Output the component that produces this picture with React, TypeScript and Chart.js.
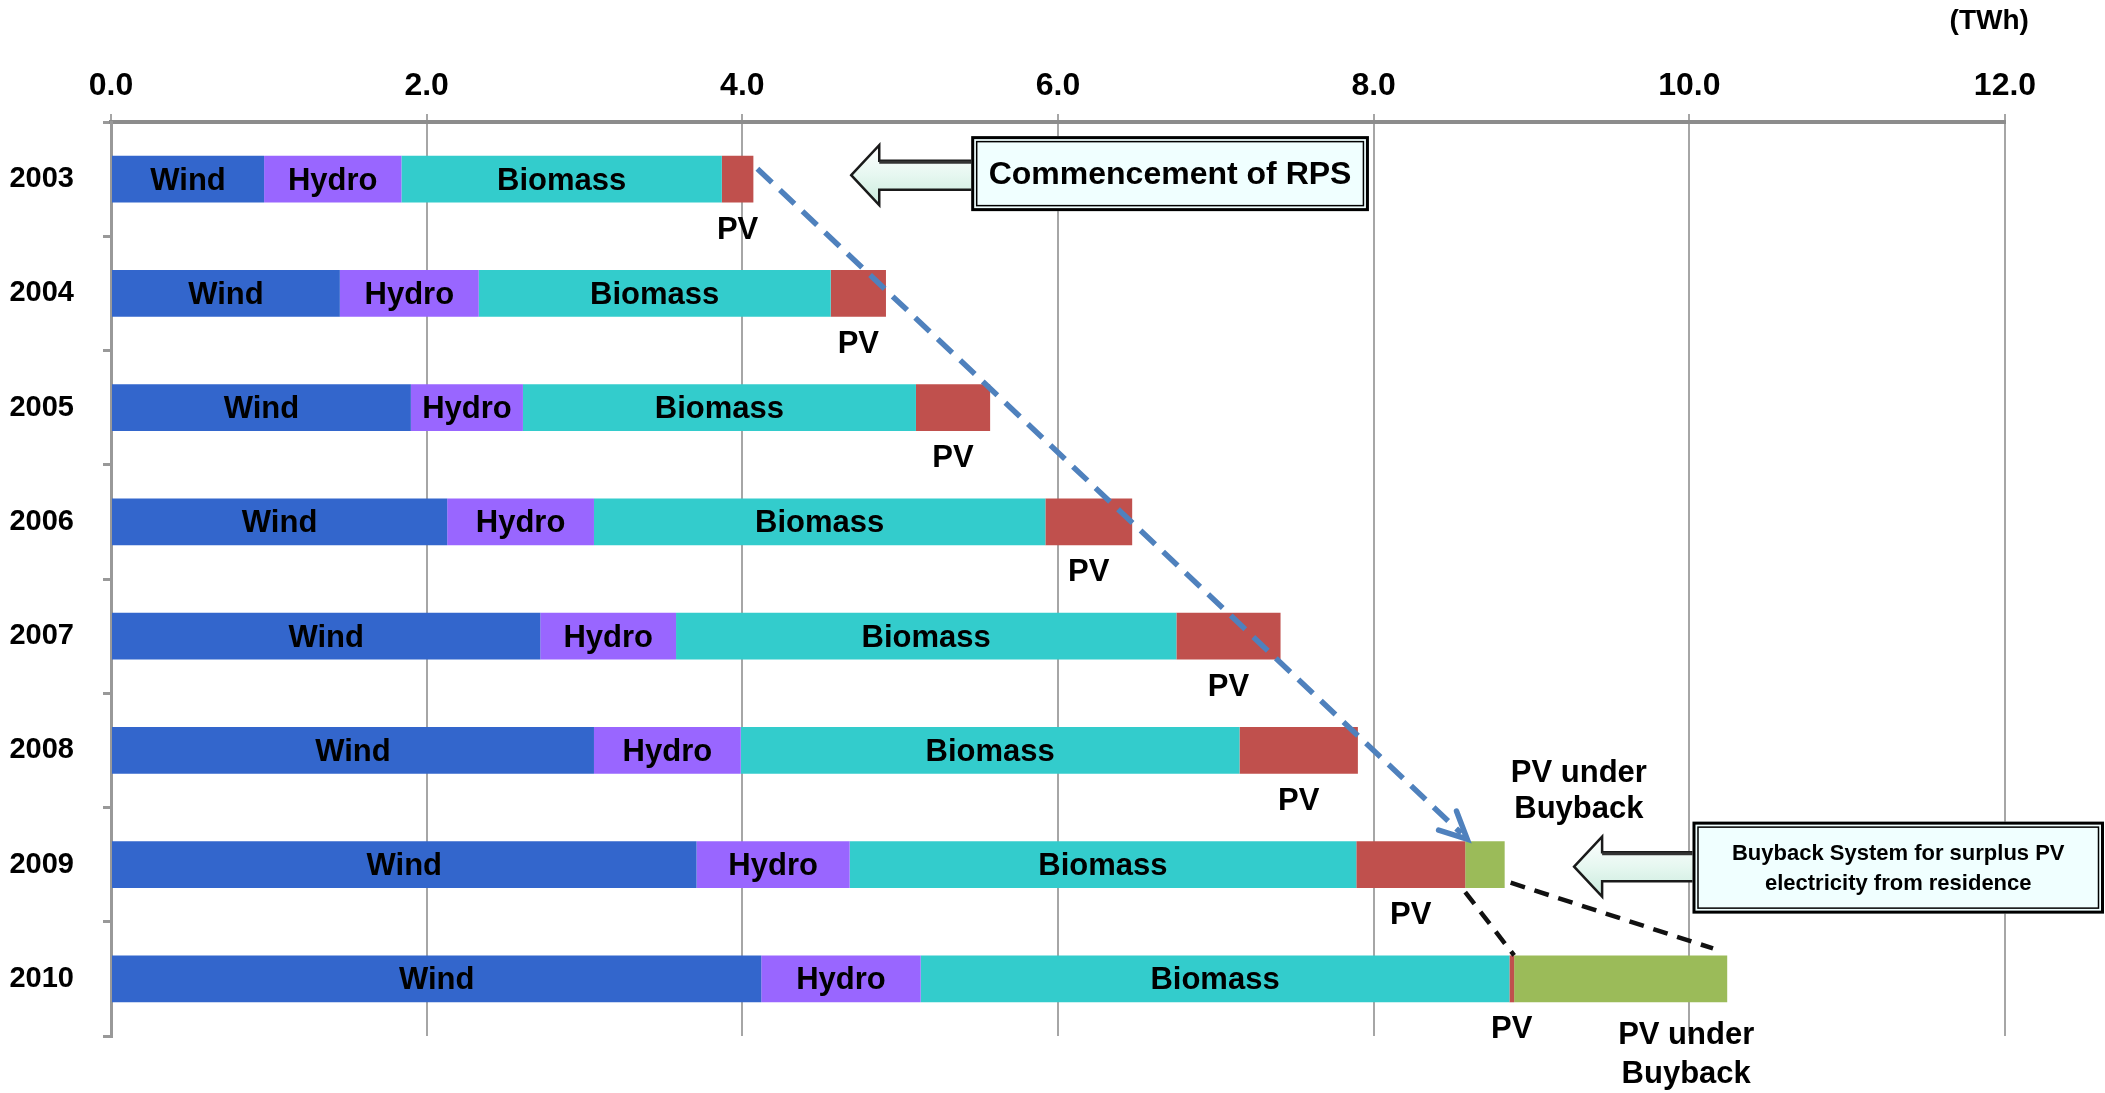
import React, { useEffect, useRef } from "react";
import { Chart, registerables } from "chart.js";

Chart.register(...registerables);

// ---- data (TWh) ----
const years = ["2003", "2004", "2005", "2006", "2007", "2008", "2009", "2010"];
const wind = [0.97, 1.45, 1.9, 2.13, 2.72, 3.06, 3.71, 4.12];
const hydro = [0.87, 0.88, 0.71, 0.93, 0.86, 0.93, 0.97, 1.01];
const biomass = [2.03, 2.23, 2.49, 2.86, 3.17, 3.16, 3.21, 3.73];
const pv = [0.2, 0.35, 0.47, 0.55, 0.66, 0.75, 0.69, 0.03];
const pvBuyback = [null, null, null, null, null, null, 0.25, 1.35];
const xTickValues = [0, 2, 4, 6, 8, 10, 12];
const unitLabel = "(TWh)";
const rpsNote = "Commencement of RPS";
const buybackNote = ["Buyback System for surplus PV", "electricity from residence"];
const buybackLabel = ["PV under", "Buyback"];

const SANS = "'Liberation Sans', Arial, sans-serif";

function drawArrow(ctx: CanvasRenderingContext2D, tipX: number, cy: number, endX: number) {
  const hl = 28, hh = 30, sh = 14.5;
  ctx.save();
  ctx.beginPath();
  ctx.moveTo(tipX, cy);
  ctx.lineTo(tipX + hl, cy - hh);
  ctx.lineTo(tipX + hl, cy - sh);
  ctx.lineTo(endX, cy - sh);
  ctx.lineTo(endX, cy + sh);
  ctx.lineTo(tipX + hl, cy + sh);
  ctx.lineTo(tipX + hl, cy + hh);
  ctx.closePath();
  const g = ctx.createLinearGradient(0, cy - hh, 0, cy + hh);
  g.addColorStop(0, "#ffffff");
  g.addColorStop(0.5, "#e6f7f0");
  g.addColorStop(1, "#c9eadc");
  ctx.fillStyle = g;
  ctx.fill();
  ctx.lineWidth = 2.5;
  ctx.strokeStyle = "#1a1a1a";
  ctx.lineJoin = "miter";
  ctx.stroke();
  ctx.beginPath();
  ctx.moveTo(tipX + hl, cy - sh + 1.5);
  ctx.lineTo(endX, cy - sh + 1.5);
  ctx.lineWidth = 3;
  ctx.strokeStyle = "#333";
  ctx.stroke();
  ctx.restore();
}

function drawBox(ctx: CanvasRenderingContext2D, x0: number, y0: number, x1: number, y1: number) {
  const w = x1 - x0, h = y1 - y0;
  ctx.save();
  ctx.fillStyle = "#f0ffff";
  ctx.fillRect(x0, y0, w, h);
  ctx.strokeStyle = "#000";
  ctx.lineWidth = 3;
  ctx.strokeRect(x0 + 1.5, y0 + 1.5, w - 3, h - 3);
  ctx.lineWidth = 1.5;
  ctx.strokeRect(x0 + 5.5, y0 + 5.5, w - 11, h - 11);
  ctx.restore();
}

const annotations = {
  id: "annotations",
  afterDatasetsDraw(chart: any) {
    const ctx: CanvasRenderingContext2D = chart.ctx;
    const xs = chart.scales.x;
    const ys = chart.scales.y;
    const meta = (i: number) => chart.getDatasetMeta(i).data as any[];
    const px = (v: number) => xs.getPixelForValue(v);
    const bandH = ys.getPixelForValue(1) - ys.getPixelForValue(0);
    const half = (bandH * 0.41) / 2;

    ctx.save();
    ctx.fillStyle = "#000";
    ctx.textAlign = "center";
    ctx.textBaseline = "middle";
    ctx.font = `bold 31px ${SANS}`;

    // segment names inside bars
    [0, 1, 2].forEach((d) => {
      const label = chart.data.datasets[d].label;
      meta(d).forEach((bar) => {
        ctx.fillText(label, (bar.x + bar.base) / 2, bar.y + 2);
      });
    });
    // PV labels under the PV segments
    meta(3).forEach((bar) => {
      ctx.fillText("PV", (bar.x + bar.base) / 2, bar.y + 51);
    });
    // PV under Buyback labels
    const b09 = meta(4)[6];
    const b10 = meta(4)[7];
    ctx.fillText(buybackLabel[0], px(9.3), b09.y - 91);
    ctx.fillText(buybackLabel[1], px(9.3), b09.y - 55);
    ctx.fillText(buybackLabel[0], px(9.98), b10.y + 57);
    ctx.fillText(buybackLabel[1], px(9.98), b10.y + 96);

    // blue dashed arrow (PV growth)
    const p03 = meta(3)[0];
    const p09 = meta(3)[6];
    const sx = p03.x + 4, sy = p03.y - half + 13;
    const ex = p09.x + 2, ey = p09.y - half - 2;
    ctx.strokeStyle = "#4f81bd";
    ctx.lineWidth = 5.5;
    ctx.setLineDash([20, 11]);
    ctx.beginPath();
    ctx.moveTo(sx, sy);
    ctx.lineTo(ex - 6, ey - 6);
    ctx.stroke();
    ctx.setLineDash([]);
    const ang = Math.atan2(ey - sy, ex - sx);
    const hlen = 30;
    ctx.lineCap = "round";
    ctx.beginPath();
    ctx.moveTo(ex - hlen * Math.cos(ang - 0.45), ey - hlen * Math.sin(ang - 0.45));
    ctx.lineTo(ex, ey);
    ctx.lineTo(ex - hlen * Math.cos(ang + 0.45), ey - hlen * Math.sin(ang + 0.45));
    ctx.stroke();
    ctx.lineCap = "butt";

    // black dashed lines (2009 -> 2010 buyback)
    const p10 = meta(3)[7];
    ctx.strokeStyle = "#111";
    ctx.lineWidth = 4.5;
    ctx.setLineDash([15, 10]);
    ctx.beginPath();
    ctx.moveTo(p09.x, p09.y + half + 4);
    ctx.lineTo(p10.x, p10.y - half);
    ctx.stroke();
    ctx.beginPath();
    ctx.moveTo(b09.x + 6, b09.y + 18);
    ctx.lineTo(px(10.15), b10.y - half - 7);
    ctx.stroke();
    ctx.setLineDash([]);

    // Commencement of RPS box + arrow
    const y03 = ys.getPixelForValue(0) - 5;
    const bx0 = px(5.45), bx1 = px(7.97);
    drawArrow(ctx, px(4.69), y03 + 1, bx0 + 2);
    drawBox(ctx, bx0, y03 - 38, bx1, y03 + 37);
    ctx.fillStyle = "#000";
    ctx.font = `bold 32px ${SANS}`;
    ctx.fillText(rpsNote, (bx0 + bx1) / 2, y03 + 1);

    // Buyback system box + arrow
    const y09 = ys.getPixelForValue(6) + 3;
    const cx0 = px(10.02), cx1 = chart.width - 1;
    drawArrow(ctx, px(9.27), y09 - 1, cx0 + 2);
    drawBox(ctx, cx0, y09 - 46, cx1, y09 + 46);
    ctx.fillStyle = "#000";
    ctx.font = `bold 22px ${SANS}`;
    ctx.fillText(buybackNote[0], (cx0 + cx1) / 2, y09 - 14);
    ctx.fillText(buybackNote[1], (cx0 + cx1) / 2, y09 + 16);

    // unit label
    ctx.font = `bold 28px ${SANS}`;
    ctx.fillText(unitLabel, px(11.9), 21);
    ctx.restore();
  },
};

export default function App() {
  const ref = useRef<HTMLCanvasElement | null>(null);

  useEffect(() => {
    if (!ref.current) return;
    const mk = (label: string, data: (number | null)[], color: string) => ({
      label,
      data,
      backgroundColor: color,
      borderWidth: 0,
      barPercentage: 0.41,
      categoryPercentage: 1,
    });
    const chart = new Chart(ref.current, {
      type: "bar",
      data: {
        labels: years,
        datasets: [
          mk("Wind", wind, "#3366cc"),
          mk("Hydro", hydro, "#9966ff"),
          mk("Biomass", biomass, "#33cccc"),
          mk("PV", pv, "#c0504d"),
          mk("PV under Buyback", pvBuyback, "#9bbb59"),
        ],
      },
      options: {
        indexAxis: "y",
        responsive: false,
        animation: false,
        layout: { padding: { left: 0, top: 0, right: 100, bottom: 57 } },
        plugins: {
          legend: { display: false },
          tooltip: { enabled: false },
          title: { display: false },
        },
        scales: {
          x: {
            position: "top",
            stacked: true,
            min: 0,
            max: 12,
            afterBuildTicks: (s: any) => {
              s.ticks = xTickValues.map((v) => ({ value: v }));
            },
            afterFit: (s: any) => {
              s.height = 122;
            },
            ticks: {
              callback: (v: any) => Number(v).toFixed(1),
              color: "#000",
              padding: 9,
              font: { family: SANS, size: 32, weight: "bold" },
            },
            grid: {
              color: "#a6a6a6",
              lineWidth: 2,
              tickLength: 8,
              drawTicks: true,
            },
            border: { display: true, color: "#8c8c8c", width: 4 },
          },
          y: {
            stacked: true,
            afterFit: (s: any) => {
              s.width = 111;
            },
            ticks: {
              color: "#000",
              padding: 29,
              font: { family: SANS, size: 29, weight: "bold" },
            },
            grid: {
              drawOnChartArea: false,
              drawTicks: true,
              tickLength: 8,
              color: "#999",
              lineWidth: 3,
              offset: true,
            },
            border: { display: true, color: "#999", width: 3 },
          },
        },
      },
      plugins: [annotations],
    } as any);
    return () => chart.destroy();
  }, []);

  return (
    <div style={{ position: "absolute", left: 0, top: 0, width: 2105, height: 1093, background: "#fff" }}>
      <canvas ref={ref} width={2105} height={1093} style={{ display: "block" }} />
    </div>
  );
}
